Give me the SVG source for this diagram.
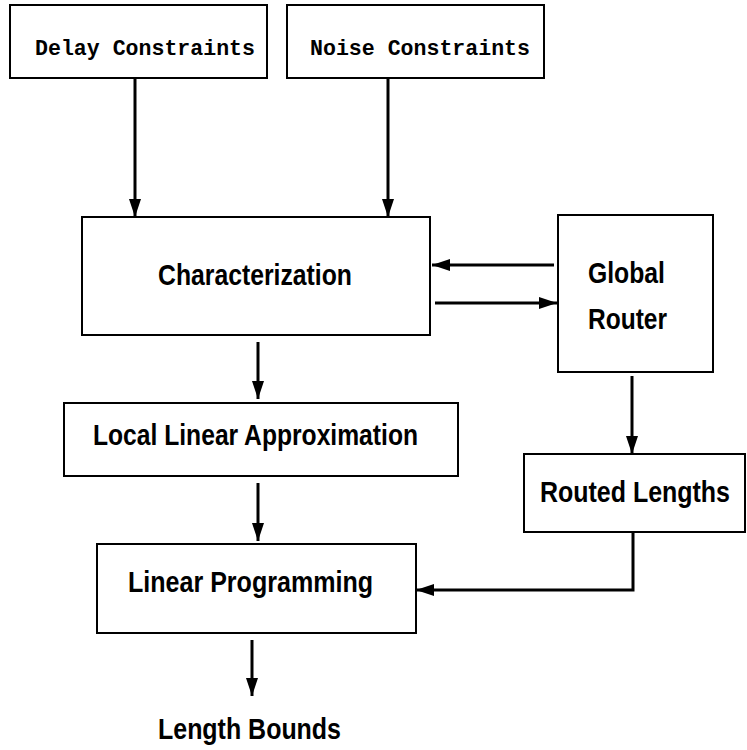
<svg xmlns="http://www.w3.org/2000/svg" width="747" height="750" viewBox="0 0 747 750">
  <style>
    .box { fill: #fff; stroke: #000; stroke-width: 2; }
    .mono { font-family: "Liberation Mono", "Courier New", monospace; font-weight: bold; font-size: 22px; fill: #000; }
    .lbl { font-family: "Liberation Sans", Arial, Helvetica, sans-serif; font-weight: bold; font-size: 30px; fill: #000; }
    .edge { fill: none; stroke: #000; stroke-width: 3; marker-end: url(#head); }
  </style>
  <defs>
    <marker id="head" markerUnits="userSpaceOnUse" markerWidth="18" markerHeight="12" viewBox="0 0 18 12" refX="18" refY="6" orient="auto">
      <path d="M0,0 L18,6 L0,12 Z" fill="#000"/>
    </marker>
  </defs>
  <rect width="747" height="750" fill="#fff"/>

  <g id="connectors">
    <line class="edge" x1="135" y1="78" x2="135" y2="217"/>
    <line class="edge" x1="388" y1="78" x2="388" y2="217"/>
    <line class="edge" x1="554" y1="265" x2="432" y2="265"/>
    <line class="edge" x1="435" y1="303" x2="557" y2="303"/>
    <line class="edge" x1="258" y1="342" x2="258" y2="399"/>
    <line class="edge" x1="258" y1="483" x2="258" y2="541"/>
    <line class="edge" x1="632" y1="376" x2="632" y2="454"/>
    <polyline class="edge" points="633,532 633,590 416,590"/>
    <line class="edge" x1="252" y1="640" x2="252" y2="696"/>
  </g>

  <g id="delay-constraints">
    <rect class="box" x="10" y="5" width="257" height="73"/>
    <text class="mono" x="35" y="55" textLength="220" lengthAdjust="spacingAndGlyphs">Delay Constraints</text>
  </g>
  <g id="noise-constraints">
    <rect class="box" x="287" y="5" width="257" height="73"/>
    <text class="mono" x="310" y="55" textLength="220" lengthAdjust="spacingAndGlyphs">Noise Constraints</text>
  </g>
  <g id="characterization">
    <rect class="box" x="82" y="217" width="348" height="118"/>
    <text class="lbl" x="158" y="285" textLength="194" lengthAdjust="spacingAndGlyphs">Characterization</text>
  </g>
  <g id="global-router">
    <rect class="box" x="558" y="215" width="155" height="157"/>
    <text class="lbl" x="588" y="283" textLength="77" lengthAdjust="spacingAndGlyphs">Global</text>
    <text class="lbl" x="588" y="329" textLength="79" lengthAdjust="spacingAndGlyphs">Router</text>
  </g>
  <g id="local-linear-approximation">
    <rect class="box" x="64" y="403" width="394" height="73"/>
    <text class="lbl" x="93" y="445" textLength="325" lengthAdjust="spacingAndGlyphs">Local Linear Approximation</text>
  </g>
  <g id="routed-lengths">
    <rect class="box" x="524" y="454" width="221" height="78"/>
    <text class="lbl" x="540" y="502" textLength="190" lengthAdjust="spacingAndGlyphs">Routed Lengths</text>
  </g>
  <g id="linear-programming">
    <rect class="box" x="97" y="544" width="319" height="89"/>
    <text class="lbl" x="128" y="592" textLength="245" lengthAdjust="spacingAndGlyphs">Linear Programming</text>
  </g>
  <g id="length-bounds">
    <text class="lbl" x="158" y="739" textLength="183" lengthAdjust="spacingAndGlyphs">Length Bounds</text>
  </g>
</svg>
